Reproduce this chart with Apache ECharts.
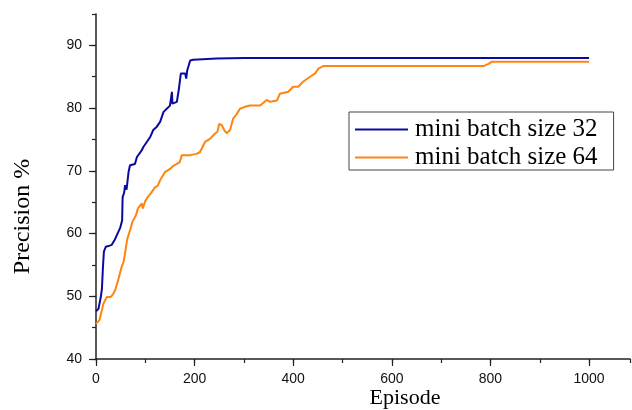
<!DOCTYPE html>
<html>
<head>
<meta charset="utf-8">
<script src="https://cdn.jsdelivr.net/npm/echarts@6/dist/echarts.min.js"></script>
<style>
html,body{margin:0;padding:0;background:#fff;}
#chart{width:632px;height:410px;}
</style>
</head>
<body>
<div id="chart"></div>
<script>
// ---- data ----
var seriesNames = ['mini batch size 32', 'mini batch size 64'];

var ep32 = [0, 5, 8, 10, 12, 14, 16, 20, 25, 32, 38, 42, 49, 53, 54, 57, 59, 62, 66, 69, 79, 83, 93, 96, 103, 110, 116, 123, 130, 137, 145, 150, 153, 154, 155, 164, 168, 172, 181, 183, 185, 191, 197, 245, 300, 1000];
var val32 = [47.6, 48.0, 48.3, 50.0, 51.2, 54.5, 57.1, 57.9, 58.0, 58.2, 59.0, 59.7, 60.9, 62.1, 65.8, 66.5, 67.7, 67.0, 69.8, 70.9, 71.1, 72.2, 73.3, 73.8, 74.6, 75.4, 76.5, 77.0, 77.8, 79.4, 80.0, 80.4, 80.6, 82.6, 80.7, 81.0, 83.0, 85.5, 85.5, 84.7, 86.0, 87.6, 87.7, 87.9, 88.0, 88.0];

var ep64 = [0, 4, 7, 12, 15, 22, 30, 35, 39, 45, 52, 56, 59, 63, 69, 74, 81, 85, 88, 93, 95, 100, 103, 111, 120, 125, 130, 140, 150, 157, 164, 170, 174, 178, 184, 191, 204, 211, 221, 231, 241, 246, 250, 255, 260, 265, 272, 278, 285, 292, 302, 312, 333, 346, 353, 367, 373, 390, 400, 410, 420, 434, 444, 451, 461, 786, 795, 803, 1000];
var val64 = [45.6, 45.8, 46.2, 47.8, 48.8, 49.9, 49.9, 50.4, 51.0, 52.6, 54.7, 55.5, 56.9, 59.0, 60.5, 61.9, 62.9, 64.0, 63.7, 64.8, 64.0, 65.2, 65.6, 66.4, 67.4, 67.6, 68.5, 69.8, 70.3, 70.8, 71.1, 71.4, 72.5, 72.2, 72.5, 72.5, 72.7, 73.0, 74.6, 75.1, 75.9, 76.2, 77.5, 77.3, 76.5, 76.0, 76.5, 78.3, 79.0, 79.9, 80.2, 80.4, 80.4, 81.3, 81.0, 81.2, 82.3, 82.6, 83.4, 83.4, 84.2, 85.0, 85.5, 86.3, 86.7, 86.7, 87.0, 87.4, 87.4];

var xTitle = 'Episode';
var yTitle = 'Precision %';

function pairs(xs, ys) {
  var out = [];
  for (var i = 0; i < xs.length; i++) out.push([xs[i], ys[i]]);
  return out;
}

var serif = '"Liberation Serif", "Times New Roman", serif';
var sans = '"Liberation Sans", Arial, sans-serif';
var axisColor = '#222';

var chart = echarts.init(document.getElementById('chart'), null, {renderer: 'canvas'});
chart.setOption({
  animation: false,
  backgroundColor: '#fff',
  grid: {left: 96, right: 2, top: 14, bottom: 51, containLabel: false, outerBoundsMode: 'none'},
  legend: {
    orient: 'vertical',
    left: 349, top: 112,
    padding: [5, 16, 0, 6],
    itemGap: 3,
    itemWidth: 53, itemHeight: 2,
    icon: 'rect',
    borderColor: '#444', borderWidth: 1,
    textStyle: {fontFamily: serif, fontSize: 25, color: '#000', padding: [0, 0, 0, 2]},
    data: seriesNames
  },
  xAxis: [{
    type: 'value', min: 0, max: 1083, interval: 200,
    name: xTitle, nameLocation: 'middle', nameGap: 28, nameMoveOverlap: false,
    nameTextStyle: {fontFamily: serif, fontSize: 22, color: '#000', padding: [0, 0, 0, 84]},
    axisLine: {show: true, lineStyle: {color: axisColor, width: 1.5}},
    axisTick: {show: true, inside: false, length: 7, lineStyle: {color: axisColor, width: 1.2}},
    axisLabel: {fontFamily: sans, fontSize: 14, color: '#111', margin: 13, showMaxLabel: false,
      formatter: function (v) { return v % 200 === 0 ? String(v) : ''; }},
    splitLine: {show: false}
  }, {
    type: 'value', min: 0, max: 1083, interval: 100, position: 'bottom',
    axisLine: {show: false},
    axisTick: {show: true, inside: false, length: 4, lineStyle: {color: axisColor, width: 1.2}},
    axisLabel: {show: false},
    splitLine: {show: false}
  }],
  yAxis: [{
    type: 'value', min: 40, max: 95, interval: 10,
    name: yTitle, nameLocation: 'middle', nameGap: 61, nameRotate: 90, nameMoveOverlap: false,
    nameTextStyle: {fontFamily: serif, fontSize: 24, color: '#000', padding: [0, 60, 0, 0]},
    axisLine: {show: true, lineStyle: {color: axisColor, width: 1.5}},
    axisTick: {show: true, inside: false, length: 7, lineStyle: {color: axisColor, width: 1.2}},
    axisLabel: {fontFamily: sans, fontSize: 14, color: '#111', margin: 14, showMaxLabel: false,
      formatter: function (v) { return v % 10 === 0 ? String(v) : ''; }},
    splitLine: {show: false}
  }, {
    type: 'value', min: 40, max: 95, interval: 5, position: 'left',
    axisLine: {show: false},
    axisTick: {show: true, inside: false, length: 4, lineStyle: {color: axisColor, width: 1.2}},
    axisLabel: {show: false},
    splitLine: {show: false}
  }],
  series: [{
    name: seriesNames[0], type: 'line', symbol: 'none', xAxisIndex: 0, yAxisIndex: 0,
    lineStyle: {color: '#0a0aa0', width: 2}, itemStyle: {color: '#0a0aa0'},
    data: pairs(ep32, val32), z: 3
  }, {
    name: seriesNames[1], type: 'line', symbol: 'none', xAxisIndex: 0, yAxisIndex: 0,
    lineStyle: {color: '#ff8410', width: 2}, itemStyle: {color: '#ff8410'},
    data: pairs(ep64, val64), z: 2
  }]
});
</script>
</body>
</html>
